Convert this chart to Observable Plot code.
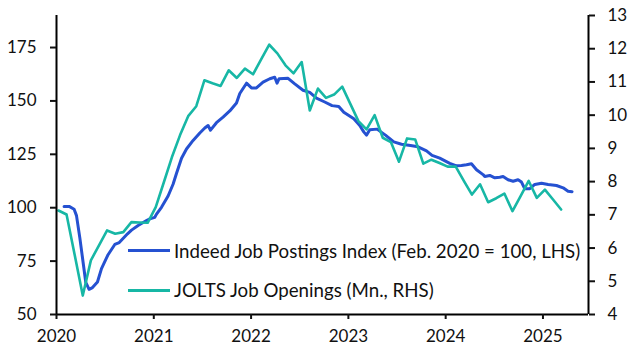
<!DOCTYPE html>
<html><head><meta charset="utf-8">
<script src="https://cdn.jsdelivr.net/npm/d3@7"></script>
<script src="https://cdn.jsdelivr.net/npm/@observablehq/plot@0.6"></script>
<style>
html,body{margin:0;padding:0;background:#fff;}
#wrap{position:relative;width:634px;height:353px;font-family:Lato,sans-serif;}
.leg{position:absolute;left:128px;display:flex;align-items:center;height:20px;font-size:18.7px;color:#111;white-space:nowrap;}
.sw{width:42px;height:3px;margin-right:4px;}
</style></head><body><div id="wrap"></div>
<script>
// Indeed Job Postings Index (Feb 2020 = 100), time in decimal years
const indeedYear = [2020.078,2020.13,2020.181,2020.2055,2020.2395,2020.301,2020.335,2020.37,2020.421,2020.4625,2020.53,2020.599,2020.645,2020.73,2020.771,2020.839,2020.925,2020.959,
2021.01,2021.028,2021.079,2021.147,2021.198,2021.233,2021.285,2021.336,2021.404,2021.473,2021.524,2021.558,2021.583,2021.644,2021.712,2021.781,2021.85,2021.884,2021.953,
2022.004,2022.055,2022.123,2022.192,2022.243,2022.267,2022.288,2022.38,2022.449,2022.534,2022.603,2022.672,2022.757,2022.832,2022.901,2022.953,
2023.056,2023.117,2023.158,2023.186,2023.22,2023.295,2023.381,2023.467,2023.546,2023.638,2023.716,2023.803,2023.86,2023.939,
2024.042,2024.111,2024.162,2024.214,2024.265,2024.317,2024.384,2024.402,2024.453,2024.505,2024.556,2024.59,2024.641,2024.693,2024.744,2024.779,2024.813,2024.865,2024.916,2024.985,
2025.053,2025.139,2025.207,2025.258,2025.299];
const indeedIndex = [100.6,100.6,99.3,96.3,86,65,61.8,62.6,65.2,71.5,78,82.8,83.7,87.8,89.5,91.7,94,94.8,
95.5,97,100.2,105.5,111,116,123.2,127.5,131.5,135,137.3,138.5,136.3,139.8,142.4,145.3,149,153.5,158.3,
156.1,156.1,158.8,160.4,161.1,158.3,160.4,160.6,158,155,154,151.3,149.5,147.8,147.4,144.7,
141.6,138.5,135.5,134,136.5,136.8,134,130.8,129.7,129.1,128.5,126.6,124.5,123.2,
120.8,119.6,119.8,120.1,120.6,117.8,115.5,114.6,115.1,114,114.3,114.6,113.1,112.4,113.1,112,108.9,108.9,110.9,111.5,
110.9,110.4,109.3,107.7,107.5];

// JOLTS job openings (millions), monthly from Jan 2020
const joltsStartYear = 2020;
const joltsOpenings = [
 7.13,7.01,5.8,4.57,5.63,6.08,6.53,6.43,6.48,6.78,6.77,6.76,
 7.23,7.98,8.74,9.4,9.97,10.27,11.05,10.96,10.88,11.35,11.12,11.4,
 11.23,11.68,12.12,11.86,11.5,11.26,11.6,10.14,10.8,10.52,10.62,10.86,
 10.34,9.82,9.57,10.0,9.32,9.19,8.6,9.3,9.27,8.54,8.66,8.56,
 8.45,8.45,8.02,7.61,7.92,7.38,7.5,7.64,7.11,7.56,8.02,7.51,
 7.76,7.46,7.16];

const leftTicks = [50,75,100,125,150,175];
const rightTicks = [4,5,6,7,8,9,10,11,12,13];
const xTicks = [2020,2021,2022,2023,2024,2025];
const xDomain = [2020, 2025.468];
const leftDomain = [50,190];
const rightDomain = [4,13];
const seriesNames = ["Indeed Job Postings Index (Feb. 2020 = 100, LHS)", "JOLTS Job Openings (Mn., RHS)"];
const blue = "#2551d1";
const teal = "#17b7a5";

const toLeft = r => leftDomain[0] + (r - rightDomain[0]) * (leftDomain[1]-leftDomain[0])/(rightDomain[1]-rightDomain[0]);
const fromLeft = v => rightDomain[0] + (v - leftDomain[0]) * (rightDomain[1]-rightDomain[0])/(leftDomain[1]-leftDomain[0]);

const indeed = indeedYear.map((x,i)=>({x, y: indeedIndex[i]}));
const jolts = joltsOpenings.map((r,i)=>({x: joltsStartYear + i/12 + 0.02, y: toLeft(r)}));

const chart = Plot.plot({
  width:634, height:353, marginLeft:56, marginRight:46, marginTop:15, marginBottom:39,
  x:{domain:xDomain},
  y:{domain:leftDomain},
  style:{fontFamily:"Lato, sans-serif", fontSize:"17px", color:"#111", background:"white"},
  marks:[
    Plot.line(indeed,{x:"x",y:"y",stroke:blue,strokeWidth:3,strokeLinejoin:"round"}),
    Plot.line(jolts,{x:"x",y:"y",stroke:teal,strokeWidth:2.6,strokeLinejoin:"round"}),
    Plot.ruleX(xDomain,{stroke:"black",strokeWidth:2}),
    Plot.ruleY([leftDomain[0]],{stroke:"black",strokeWidth:2}),
    Plot.axisY(leftTicks,{anchor:"left",tickSize:6,strokeWidth:2,tickPadding:14,label:null,fontSize:17}),
    Plot.axisY(rightTicks.map(toLeft),{anchor:"right",tickSize:6,strokeWidth:2,tickPadding:13,label:null,fontSize:17,tickFormat:d=>String(Math.round(fromLeft(d)))}),
    Plot.axisX(xTicks,{anchor:"bottom",tickSize:5,strokeWidth:2,tickPadding:10,label:null,fontSize:17,tickFormat:d=>String(d)})
  ]
});
const wrap = document.getElementById("wrap");
wrap.appendChild(chart);
const tops = [240.7, 280];
[blue, teal].forEach((c,i)=>{
  const row = document.createElement("div");
  row.className = "leg";
  row.style.top = tops[i] + "px";
  const sw = document.createElement("div");
  sw.className = "sw"; sw.style.background = c;
  const t = document.createElement("span");
  t.textContent = seriesNames[i];
  row.appendChild(sw); row.appendChild(t);
  wrap.appendChild(row);
});
</script></body></html>
